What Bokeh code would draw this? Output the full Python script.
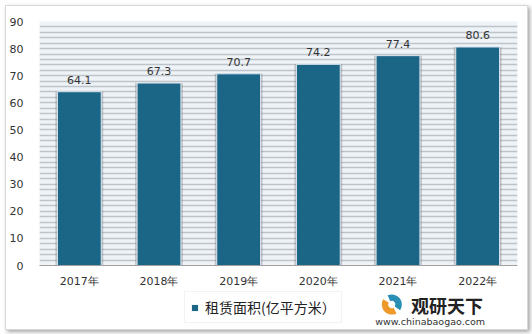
from bokeh.plotting import figure
from bokeh.layouts import column
from bokeh.models import (ColumnDataSource, SingleIntervalTicker, Legend, LegendItem)
from bokeh.core.properties import value
from bokeh.embed import file_html
from bokeh.resources import INLINE

years = ["2017年", "2018年", "2019年", "2020年", "2021年", "2022年"]
values = [64.1, 67.3, 70.7, 74.2, 77.4, 80.6]
labels = ["64.1", "67.3", "70.7", "74.2", "77.4", "80.6"]
series_name = "租赁面积(亿平方米）"
BAR = "#1b6586"

src = ColumnDataSource(dict(x=years, top=values, lab=labels,
                            ly=[v + 3.0 for v in values]))

p = figure(x_range=years, y_range=(0, 90), width=521, height=284,
           output_backend="svg", toolbar_location=None,
           min_border_left=33, min_border_right=10, min_border_top=15,
           min_border_bottom=23)
p.outline_line_color = None
p.background_fill_color = "#eef3f8"
p.border_fill_color = "white"

# striped grid
p.xgrid.grid_line_color = None
p.ygrid.ticker = SingleIntervalTicker(interval=2)
p.ygrid.grid_line_color = "#bfc4c9"
p.ygrid.grid_line_width = 1.5

# bar shadows then bars
p.vbar(x="x", top="top", width=0.6, source=src, fill_color="#555555",
       fill_alpha=0.3, line_color=None, bottom=-0.8)
p.vbar(x="x", top="top", width=0.55, source=src, fill_color=BAR,
       line_color="#dbe5ee", line_width=1)

p.text(x="x", y="ly", text="lab", source=src, text_align="center",
       text_baseline="bottom", text_font_size="11px", text_color="#333333",
       text_font=value("DejaVu Sans"))

p.yaxis.ticker = SingleIntervalTicker(interval=10)
p.yaxis.axis_line_color = None
p.yaxis.major_tick_line_color = None
p.yaxis.minor_tick_line_color = None
p.yaxis.major_label_text_font = "DejaVu Sans"
p.yaxis.major_label_text_font_size = "11px"
p.yaxis.major_label_text_color = "#333333"
p.yaxis.major_label_standoff = 10

p.xaxis.axis_line_color = "#a0a0a0"
p.xaxis.major_tick_line_color = None
p.xaxis.minor_tick_line_color = None
p.xaxis.major_label_text_font = "DejaVu Sans"
p.xaxis.major_label_text_font_size = "11px"
p.xaxis.major_label_text_color = "#333333"
p.xaxis.major_label_standoff = 3

# bottom strip: legend + watermark
q = figure(width=521, height=39, x_range=(0, 521), y_range=(0, 39),
           output_backend="svg", toolbar_location=None, min_border=0,
           x_axis_location=None, y_axis_location=None)
q.outline_line_color = None
q.grid.grid_line_color = None
q.background_fill_color = "white"
q.border_fill_color = "white"

# legend key renderer (kept outside the visible range)
key = q.quad(left=[-40], right=[-30], bottom=[-40], top=[-30],
             fill_color=BAR, line_color="white", line_width=1)
leg = Legend(items=[LegendItem(label=series_name, renderers=[key])],
             location=(145, 6), orientation="horizontal",
             label_text_font="Noto Sans CJK SC", label_text_font_size="14px",
             label_text_color="#222222", glyph_width=9, glyph_height=9,
             border_line_color="#e6e6e6", background_fill_color="white",
             padding=5, margin=0, label_standoff=6, spacing=0)
q.add_layout(leg)

# watermark logo + text
q.annular_wedge(x=[384, 384], y=[25, 25], inner_radius=4, outer_radius=11,
                start_angle=[2.6, -0.6], end_angle=[5.2, 2.0],
                fill_color=["#ee9a2a", "#2a8fb5"], line_color=None)
q.text(x=[405], y=[25], text=["观研天下"], text_font=value("Noto Sans CJK SC"),
       text_font_style="bold", text_font_size="18px", text_color="#222222",
       text_baseline="middle")
q.text(x=[366], y=[8], text=["www.chinabaogao.com"], text_font=value("DejaVu Sans"),
       text_font_size="9.5px", text_color="#333333", text_baseline="middle")

layout = column(p, q, spacing=0, margin=(5, 0, 0, 5),
                styles={"box-shadow": "2px 2px 4px rgba(0,0,0,0.35)",
                        "border": "1px solid #d8d8d8", "background": "white"})

open("out.html", "w").write(file_html(layout, INLINE))
